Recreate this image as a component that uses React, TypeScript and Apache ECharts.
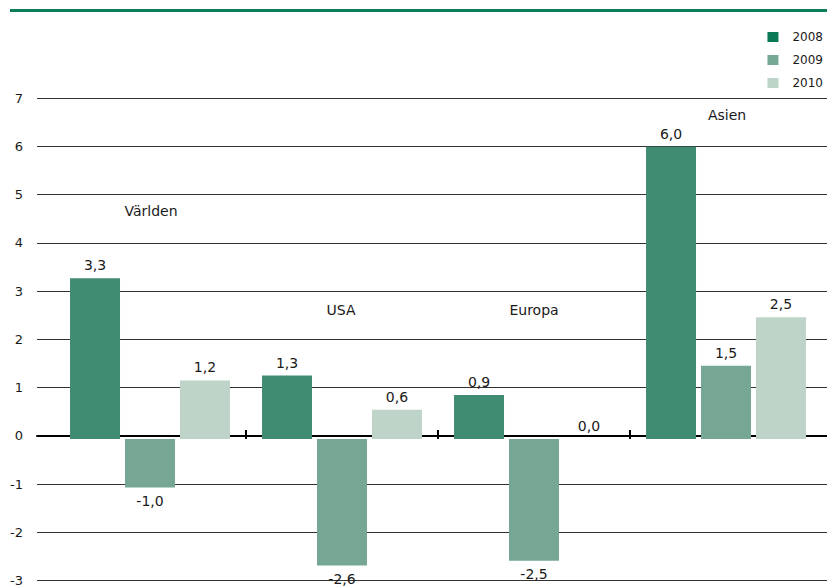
import React, { useEffect, useRef } from "react";
import * as echarts from "echarts";

// Regions on the category axis
const regions = ["Världen", "USA", "Europa", "Asien"];
// Annual values per region (percent)
const values2008 = [3.3, 1.3, 0.9, 6.0];
const values2009 = [-1.0, -2.6, -2.5, 1.5];
const values2010 = [1.2, 0.6, 0.0, 2.5];
const years = ["2008", "2009", "2010"];
const yTicks = { min: -3, max: 7, step: 1 };
// Separators between neighbouring regions
const separators = ["", "", ""];

const barColors = ["#3f8c72", "#76a794", "#bed4c8"];
const legendColors = ["#0a7a56", "#76a896", "#bdd4c9"];

const FONT = "DejaVu Sans";

const fmt = (v: number) => v.toFixed(1).replace(".", ",");

export default function App() {
  const ref = useRef<HTMLDivElement>(null);

  useEffect(() => {
    if (!ref.current) return;
    const chart = echarts.init(ref.current, null, { renderer: "svg" });

    const makeSeries = (name: string, data: number[], idx: number) => ({
      name,
      type: "bar",
      xAxisIndex: 1,
      yAxisIndex: 1,
      barGap: "10%",
      barCategoryGap: "16.7%",
      itemStyle: { color: barColors[idx] },
      label: {
        show: true,
        position: "top",
        distance: 6,
        color: "#1a1a1a",
        fontFamily: FONT,
        fontSize: 14,
        formatter: (p: any) => fmt(p.value),
      },
      data: data.map((v) =>
        v < 0 ? { value: v, label: { position: "bottom" } } : v
      ),
    });

    const hiddenY = (gridIndex: number) => ({
      type: "value",
      gridIndex,
      min: yTicks.min,
      max: yTicks.max,
      interval: yTicks.step,
      show: false,
      splitLine: { show: false },
    });

    chart.setOption({
      animation: false,
      legend: {
        orient: "vertical",
        right: -1,
        top: 26,
        itemWidth: 11,
        itemHeight: 10,
        itemGap: 11,
        icon: "rect",
        textStyle: {
          fontFamily: FONT,
          fontSize: 12,
          color: "#1a1a1a",
          padding: [0, 0, 0, 9],
        },
        data: years.map((y, i) => ({
          name: y,
          itemStyle: { color: legendColors[i] },
        })),
      },
      grid: [
        { left: 37, right: 0, top: 98, bottom: 2 },
        { left: 54, right: 5, top: 98, bottom: 2 },
        { left: 246, right: 197, top: 98, bottom: 2 },
      ],
      xAxis: [
        {
          type: "category",
          gridIndex: 0,
          data: regions,
          axisLine: { onZero: true, lineStyle: { color: "#000", width: 2 } },
          axisTick: { show: false },
          axisLabel: { show: false },
        },
        {
          type: "category",
          gridIndex: 1,
          data: regions,
          axisLine: { show: false, onZero: true },
          axisTick: { show: false },
          axisLabel: { show: false },
        },
        {
          // short upward separator ticks sitting on the zero line
          type: "category",
          gridIndex: 2,
          position: "top",
          data: separators,
          boundaryGap: false,
          axisLine: { show: false, onZero: true },
          axisTick: {
            show: true,
            inside: false,
            length: 9,
            lineStyle: { color: "#000", width: 2 },
          },
          axisLabel: { show: false },
        },
      ],
      yAxis: [
        {
          type: "value",
          gridIndex: 0,
          min: yTicks.min,
          max: yTicks.max,
          interval: yTicks.step,
          axisLine: { show: false },
          axisTick: { show: false },
          axisLabel: {
            margin: 14,
            fontFamily: FONT,
            fontSize: 13,
            color: "#1a1a1a",
          },
          splitLine: { lineStyle: { color: "#333", width: 1 } },
        },
        hiddenY(1),
        hiddenY(2),
      ],
      series: [
        makeSeries(years[0], values2008, 0),
        makeSeries(years[1], values2009, 1),
        makeSeries(years[2], values2010, 2),
      ],
      graphic: [
        {
          type: "rect",
          shape: { x: 10, y: 9, width: 817, height: 3 },
          style: { fill: "#0e7b5a" },
          silent: true,
        },
        ...[
          { text: regions[0], x: 151, y: 211 },
          { text: regions[1], x: 341, y: 310 },
          { text: regions[2], x: 534, y: 310 },
          { text: regions[3], x: 727, y: 115 },
        ].map((t) => ({
          type: "text",
          x: t.x,
          y: t.y,
          style: {
            text: t.text,
            fontFamily: FONT,
            fontSize: 14,
            fill: "#1a1a1a",
            align: "center",
            verticalAlign: "middle",
          },
        })),
      ],
    });

    return () => chart.dispose();
  }, []);

  return (
    <div
      ref={ref}
      style={{
        position: "fixed",
        left: 0,
        top: 0,
        width: 827,
        height: 587,
        background: "#fff",
      }}
    />
  );
}
